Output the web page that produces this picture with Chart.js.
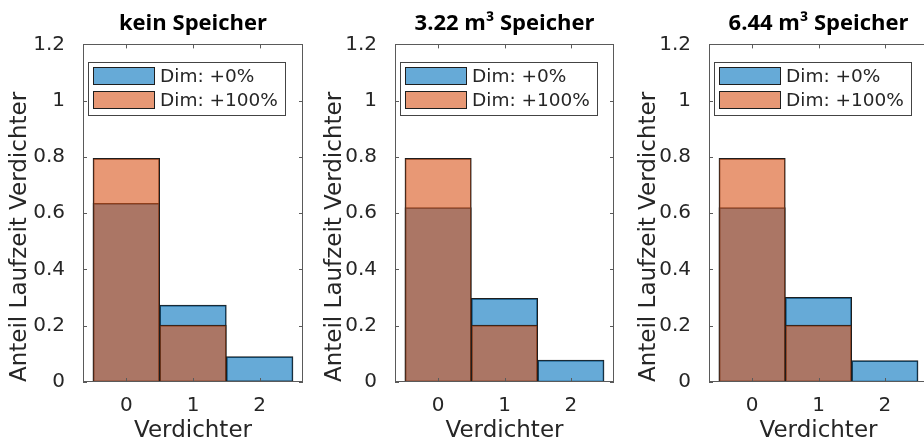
<!DOCTYPE html>
<html>
<head>
<meta charset="utf-8">
<script src="https://cdn.jsdelivr.net/npm/chart.js@4.4.1/dist/chart.umd.min.js"></script>
<style>
  html, body { margin: 0; padding: 0; background: #fff; overflow: hidden; }
  #wrap { position: relative; width: 924px; height: 447px; overflow: hidden; }
  .panel { position: absolute; top: 0; width: 310px; height: 447px; }
</style>
</head>
<body>
<div id="wrap">
  <div class="panel" style="left:0px"><canvas id="c1" width="310" height="447"></canvas></div>
  <div class="panel" style="left:310px"><canvas id="c2" width="310" height="447"></canvas></div>
  <div class="panel" style="left:620px"><canvas id="c3" width="310" height="447"></canvas></div>
</div>
<script>
// Anteil der Laufzeit je Anzahl laufender Verdichter
const verdichter = [0, 1, 2];
const seriesLabels = ['Dim: +0%', 'Dim: +100%'];
const panelTitles = ['kein Speicher', '3.22 m\u00B3 Speicher', '6.44 m\u00B3 Speicher'];

const keinSpeicher_dim0   = [0.635, 0.273, 0.090];
const keinSpeicher_dim100 = [0.795, 0.202, 0.004];
const speicher322_dim0    = [0.620, 0.297, 0.078];
const speicher322_dim100  = [0.795, 0.202, 0.000];
const speicher644_dim0    = [0.620, 0.301, 0.076];
const speicher644_dim100  = [0.795, 0.202, 0.000];

const yTicks = [0, 0.2, 0.4, 0.6, 0.8, 1, 1.2];
const yTickLabels = ['0', '0.2', '0.4', '0.6', '0.8', '1', '1.2'];

const blueFill = 'rgba(0,114,189,0.6)';
const orangeFill = 'rgba(217,83,25,0.6)';
const edgeColor = '#1e1e1e';
const axisColor = '#5a5a5a';
const textColor = '#262626';
const baseFont = 'DejaVu Sans';

// box around the axes with inward tick marks on all four sides
const boxPlugin = {
  id: 'boxPlugin',
  afterDatasetsDraw(chart) {
    const ctx = chart.ctx;
    const a = chart.chartArea;
    const x = chart.scales.x, y = chart.scales.y;
    ctx.save();
    ctx.strokeStyle = axisColor;
    ctx.lineWidth = 1;
    ctx.beginPath();
    verdichter.forEach(v => {
      const px = Math.round(x.getPixelForValue(v)) + 0.5;
      ctx.moveTo(px, a.bottom); ctx.lineTo(px, a.bottom - 4);
      ctx.moveTo(px, a.top); ctx.lineTo(px, a.top + 4);
    });
    yTicks.forEach(v => {
      const py = Math.round(y.getPixelForValue(v)) + 0.5;
      ctx.moveTo(a.left, py); ctx.lineTo(a.left + 4, py);
      ctx.moveTo(a.right, py); ctx.lineTo(a.right - 4, py);
    });
    ctx.stroke();
    ctx.strokeRect(Math.round(a.left) + 0.5, Math.round(a.top) + 0.5,
                   Math.round(a.right - a.left) - 1, Math.round(a.bottom - a.top) - 1);
    ctx.restore();
  }
};

// legend drawn inside the axes, top left, with a frame
const boxLegend = {
  id: 'boxLegend',
  afterDraw(chart) {
    const ctx = chart.ctx;
    const a = chart.chartArea;
    const sets = chart.data.datasets;
    ctx.save();
    ctx.font = '18.5px "' + baseFont + '"';
    let maxW = 0;
    sets.forEach(ds => { maxW = Math.max(maxW, ctx.measureText(ds.label).width); });
    const swL = a.left + 10, swW = 62, swH = 18;
    const textX = swL + swW + 5;
    const fl = Math.round(a.left + 5) + 0.5, ft = Math.round(a.top + 18) + 0.5;
    const fr = Math.round(textX + maxW + 7) + 0.5, fb = Math.round(a.top + 71) + 0.5;
    ctx.fillStyle = '#fff';
    ctx.fillRect(fl, ft, fr - fl, fb - ft);
    ctx.strokeStyle = '#444';
    ctx.lineWidth = 1;
    ctx.strokeRect(fl, ft, fr - fl, fb - ft);
    sets.forEach((ds, i) => {
      const top = Math.round(a.top + 23 + i * 24);
      ctx.fillStyle = ds.backgroundColor;
      ctx.fillRect(swL, top, swW, swH);
      ctx.strokeStyle = edgeColor;
      ctx.strokeRect(swL + 0.5, top + 0.5, swW - 1, swH - 1);
      ctx.fillStyle = textColor;
      ctx.textBaseline = 'middle';
      ctx.textAlign = 'left';
      ctx.fillText(ds.label, textX, top + swH / 2 + 1);
    });
    ctx.restore();
  }
};

function makePanel(id, title, dim0, dim100, yWidth, padRight, yTitlePad) {
  const ctx = document.getElementById(id).getContext('2d');
  const options = {
    responsive: false,
    animation: false,
    events: [],
    layout: { padding: { left: 0, right: padRight, top: 0, bottom: 0 } },
    datasets: { bar: { grouped: false, barPercentage: 1, categoryPercentage: 1 } },
    plugins: {
      legend: { display: false },
      tooltip: { enabled: false },
      title: {
        display: true,
        text: title,
        fullSize: false,
        color: '#000',
        font: { family: 'Open Sans', weight: 'bold', size: 22 },
        padding: { top: 11, bottom: 7 }
      }
    },
    scales: {
      x: {
        type: 'linear',
        offset: false,
        min: -0.65,
        max: 2.65,
        grid: { display: false },
        border: { display: false },
        afterBuildTicks: axis => { axis.ticks = verdichter.map(v => ({ value: v })); },
        afterFit: axis => { axis.height = 65; },
        ticks: {
          autoSkip: false,
          maxRotation: 0,
          padding: 4,
          color: textColor,
          font: { family: baseFont, size: 20 },
          callback: (val, i) => String(verdichter[i])
        },
        title: {
          display: true,
          text: 'Verdichter',
          color: textColor,
          font: { family: baseFont, size: 23 },
          padding: { top: 0, bottom: 2 }
        }
      },
      y: {
        min: 0,
        max: 1.2,
        grid: { display: false },
        border: { display: false },
        afterBuildTicks: axis => { axis.ticks = yTicks.map(v => ({ value: v })); },
        afterFit: axis => { axis.width = yWidth; },
        ticks: {
          autoSkip: false,
          padding: 10,
          color: textColor,
          font: { family: baseFont, size: 20 },
          callback: (val, i) => yTickLabels[i]
        },
        title: {
          display: true,
          text: 'Anteil Laufzeit Verdichter',
          align: 'start',
          color: textColor,
          font: { family: baseFont, size: 23 },
          padding: { top: yTitlePad, bottom: 0 }
        }
      }
    }
  };

  return new Chart(ctx, {
    type: 'bar',
    data: {
      datasets: [{
        label: seriesLabels[0],
        data: verdichter.map((v, i) => ({ x: v, y: dim0[i] })),
        backgroundColor: blueFill,
        borderColor: edgeColor,
        borderWidth: 1,
        borderSkipped: false,
        order: 1
      }, {
        label: seriesLabels[1],
        data: verdichter.map((v, i) => ({ x: v, y: dim100[i] })),
        backgroundColor: orangeFill,
        borderColor: edgeColor,
        borderWidth: 1,
        borderSkipped: false,
        order: 0
      }]
    },
    options: options,
    plugins: [boxPlugin, boxLegend]
  });
}

makePanel('c1', panelTitles[0], keinSpeicher_dim0, keinSpeicher_dim100, 83, 7, 6);
makePanel('c2', panelTitles[1], speicher322_dim0, speicher322_dim100, 85, 6, 11);
makePanel('c3', panelTitles[2], speicher644_dim0, speicher644_dim100, 89, 2, 15);
</script>
</body>
</html>
